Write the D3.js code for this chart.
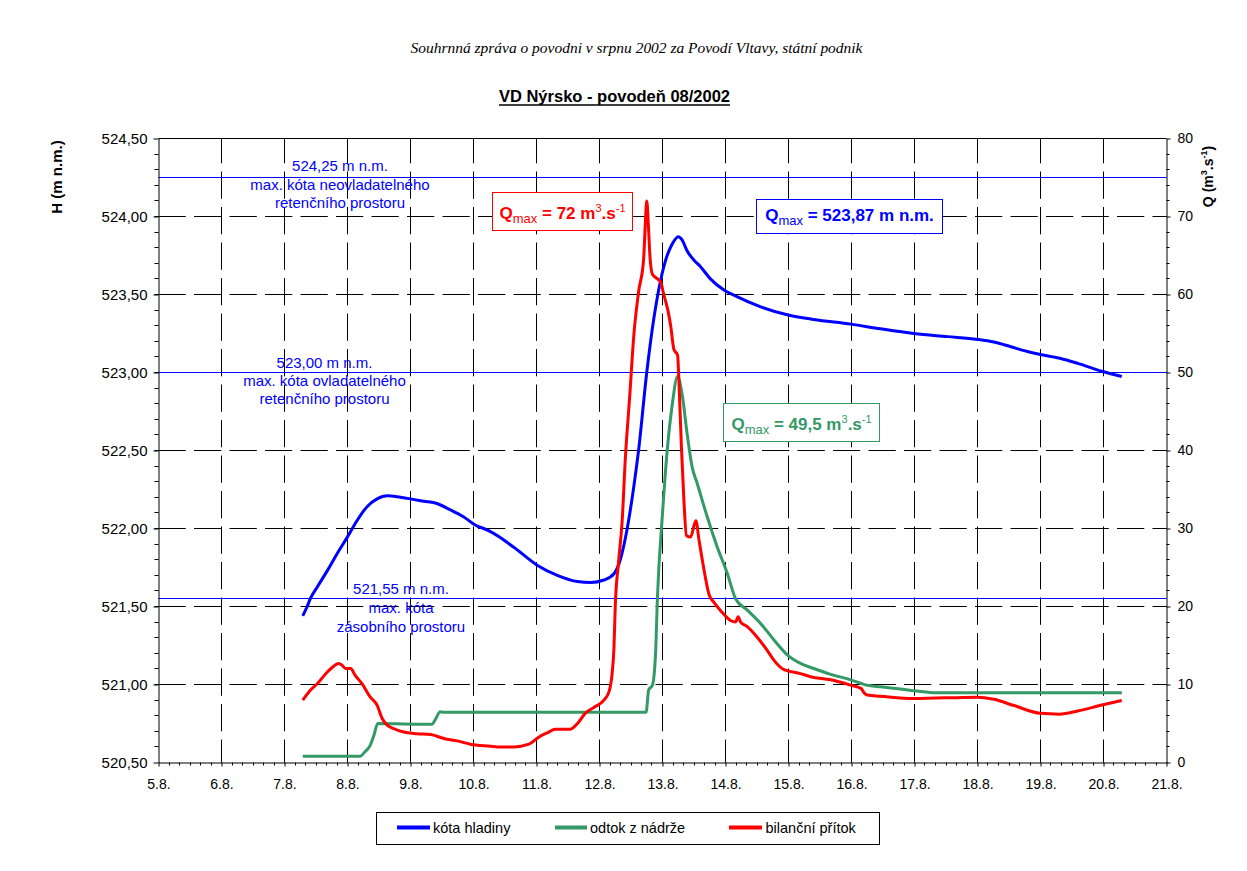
<!DOCTYPE html>
<html>
<head>
<meta charset="utf-8">
<script src="https://cdn.jsdelivr.net/npm/d3@7"></script>
<style>
  html, body { margin: 0; padding: 0; background: #fff; }
  svg { display: block; }
  text { font-family: "Liberation Sans", Arial, sans-serif; }
</style>
</head>
<body>
<script>
// ---------------- DATA ----------------
// time = day of August 2002 (decimal), 5 = 5.8. 00:00
const dayTicks = [5, 6, 7, 8, 9, 10, 11, 12, 13, 14, 15, 16, 17, 18, 19, 20, 21];
const hTicks = [520.5, 521.0, 521.5, 522.0, 522.5, 523.0, 523.5, 524.0, 524.5];
const qTicks = [0, 10, 20, 30, 40, 50, 60, 70, 80];

// kóta hladiny (m n.m.)
const hladinaT = [7.29, 7.36, 7.41, 7.52, 7.68, 7.83, 7.99, 8.15, 8.31, 8.47, 8.63, 8.84, 9.00, 9.21, 9.42, 9.63, 9.84, 10.06, 10.16, 10.27, 10.64, 11.01, 11.33, 11.65, 11.86, 12.07, 12.23, 12.33, 12.44, 12.545, 12.62, 12.75, 12.86, 12.94, 13.05, 13.15, 13.25, 13.31, 13.39, 13.50, 13.60, 13.76, 13.97, 14.19, 14.50, 14.98, 15.40, 15.99, 16.46, 16.99, 17.52, 18.00, 18.26, 18.53, 18.79, 19.00, 19.32, 19.58, 19.99, 20.29];
const hladinaH = [521.44, 521.50, 521.55, 521.625, 521.73, 521.835, 521.94, 522.05, 522.14, 522.19, 522.21, 522.20, 522.19, 522.175, 522.16, 522.12, 522.075, 522.015, 522.00, 521.98, 521.88, 521.765, 521.70, 521.66, 521.654, 521.67, 521.71, 521.80, 522.00, 522.27, 522.50, 523.00, 523.34, 523.53, 523.72, 523.82, 523.87, 523.85, 523.78, 523.72, 523.68, 523.60, 523.53, 523.485, 523.43, 523.37, 523.34, 523.31, 523.28, 523.25, 523.23, 523.212, 523.195, 523.165, 523.135, 523.115, 523.09, 523.06, 523.006, 522.974];

// odtok z nádrže (m3/s)
const odtokT = [7.29, 8.20, 8.28, 8.36, 8.42, 8.48, 9.34, 9.40, 9.47, 9.52, 12.74, 12.78, 12.84, 12.89, 12.92, 13.00, 13.08, 13.15, 13.24, 13.31, 13.39, 13.47, 13.55, 13.71, 13.87, 14.03, 14.16, 14.35, 14.56, 14.77, 14.98, 15.19, 15.40, 15.67, 15.99, 16.25, 16.46, 16.99, 17.36, 20.29];
const odtokQ = [0.8, 0.8, 1.4, 2.2, 3.5, 5.0, 4.9, 5.6, 6.5, 6.45, 6.45, 9.3, 9.9, 14.0, 21.2, 31.9, 40.5, 45.6, 49.5, 47.3, 42.2, 37.9, 35.8, 31.5, 27.6, 24.2, 21.0, 19.5, 17.8, 15.7, 13.8, 12.7, 12.05, 11.3, 10.6, 9.9, 9.7, 9.2, 8.93, 8.93];

// bilanční přítok (m3/s)
const pritokT = [7.29, 7.41, 7.52, 7.68, 7.78, 7.86, 7.91, 7.97, 8.05, 8.12, 8.23, 8.36, 8.47, 8.55, 8.63, 8.73, 8.89, 9.10, 9.32, 9.42, 9.53, 9.74, 9.95, 10.27, 10.38, 10.64, 10.88, 11.04, 11.17, 11.30, 11.54, 11.65, 11.78, 11.91, 12.07, 12.15, 12.20, 12.23, 12.25, 12.30, 12.36, 12.41, 12.48, 12.545, 12.62, 12.70, 12.73, 12.75, 12.775, 12.80, 12.84, 12.92, 12.97, 13.02, 13.085, 13.13, 13.18, 13.24, 13.26, 13.30, 13.34, 13.38, 13.445, 13.53, 13.58, 13.66, 13.74, 13.82, 13.92, 14.08, 14.16, 14.20, 14.24, 14.35, 14.50, 14.66, 14.77, 14.93, 15.19, 15.35, 15.67, 15.99, 16.15, 16.20, 16.25, 16.46, 16.99, 18.00, 18.26, 18.58, 19.00, 19.30, 19.59, 19.99, 20.29];
const pritokQ = [8.0, 9.27, 10.1, 11.6, 12.35, 12.7, 12.5, 12.05, 12.05, 11.2, 10.1, 8.4, 7.35, 5.64, 4.8, 4.36, 3.9, 3.7, 3.6, 3.37, 3.08, 2.77, 2.35, 2.09, 2.0, 2.0, 2.35, 3.28, 3.8, 4.27, 4.27, 5.0, 6.36, 7.05, 8.0, 9.05, 11.4, 14.8, 20.0, 25.5, 31.0, 39.0, 47.0, 54.8, 60.3, 64.5, 69.5, 72.0, 69.0, 65.0, 62.6, 62.0, 61.6, 60.0, 58.0, 56.0, 53.0, 52.2, 49.0, 40.5, 33.6, 29.1, 28.9, 31.0, 28.5, 24.65, 21.5, 20.5, 19.5, 18.2, 18.0, 18.7, 18.0, 17.4, 16.1, 14.4, 13.1, 11.9, 11.4, 11.0, 10.6, 9.9, 9.5, 8.93, 8.65, 8.5, 8.2, 8.38, 8.1, 7.3, 6.3, 6.2, 6.6, 7.4, 7.95];

// reference levels
const refLevels = [524.25, 523.00, 521.55];
const refLabels = [
  ["524,25 m n.m.", "max. kóta neovladatelného", "retenčního prostoru"],
  ["523,00 m n.m.", "max. kóta ovladatelného", "retenčního prostoru"],
  ["521,55 m n.m.", "max. kóta", "zásobního prostoru"]
];
const seriesNames = ["kóta hladiny", "odtok z nádrže", "bilanční přítok"];
const seriesColors = ["#0000FF", "#339966", "#FF0000"];

// ---------------- CHART ----------------
const W = 1247, H = 871;
const L = 158.5, R = 1166.5, T = 138.5, B = 762.5;
const svg = d3.select("body").append("svg").attr("width", W).attr("height", H);
svg.append("rect").attr("width", W).attr("height", H).attr("fill", "#fff");

const x = d3.scaleLinear().domain([5, 21]).range([L, R]);
const yH = d3.scaleLinear().domain([520.5, 524.5]).range([B, T]);
const yQ = d3.scaleLinear().domain([0, 80]).range([B, T]);
const px = v => Math.floor(v) + 0.5;

// titles
svg.append("text").attr("x", 636.5).attr("y", 52.5).attr("text-anchor", "middle")
  .style("font-family", "'Liberation Serif', 'Times New Roman', serif").style("font-style", "italic")
  .style("font-size", "15px").attr("fill", "#000")
  .attr("textLength", 452).attr("lengthAdjust", "spacingAndGlyphs")
  .text("Souhrnná zpráva o povodni v srpnu 2002 za Povodí Vltavy, státní podnik");
const title = svg.append("text").attr("x", 614.5).attr("y", 102).attr("text-anchor", "middle")
  .style("font-size", "16.5px").style("font-weight", "bold").attr("fill", "#000")
  .text("VD Nýrsko - povodeň 08/2002");
const tb = title.node().getBBox();
svg.append("line").attr("x1", tb.x).attr("x2", tb.x + tb.width).attr("y1", 105).attr("y2", 105)
  .attr("stroke", "#000").attr("stroke-width", 1.6);

// gridlines
const grid = svg.append("g");
hTicks.slice(1, -1).forEach(v => {
  grid.append("line").attr("x1", L).attr("x2", R).attr("y1", yH(v)).attr("y2", yH(v))
    .attr("stroke", "#000").attr("stroke-width", 1).attr("stroke-dasharray", "27.3,8.2");
});
dayTicks.slice(1, -1).forEach(d => {
  grid.append("line").attr("x1", x(d)).attr("x2", x(d)).attr("y1", T).attr("y2", B)
    .attr("stroke", "#000").attr("stroke-width", 1).attr("stroke-dasharray", "27.3,8.2")
    .attr("stroke-dashoffset", 2.5);
});
// top frame
svg.append("line").attr("x1", L).attr("x2", R).attr("y1", T).attr("y2", T).attr("stroke", "#000");

// reference lines
refLevels.forEach(v => {
  svg.append("line").attr("x1", L).attr("x2", R).attr("y1", px(yH(v))).attr("y2", px(yH(v)))
    .attr("stroke", "#0000FF").attr("stroke-width", 1);
});
const refPos = [[340, 171, 189.5, 208.3], [324.5, 367.7, 385.7, 403.5], [401, 594.3, 613, 631.7]];
refLabels.forEach((lines, i) => {
  lines.forEach((t, j) => {
    svg.append("text").attr("x", refPos[i][0]).attr("y", refPos[i][j + 1]).attr("text-anchor", "middle")
      .style("font-size", "15px").attr("fill", "#0000FF").text(t);
  });
});

// axes
const fmtH = d => d3.format(".2f")(d).replace(".", ",");
const axL = svg.append("g").attr("transform", `translate(${L},0)`)
  .call(d3.axisLeft(yH).tickValues(hTicks).tickFormat(fmtH).tickSize(5).tickSizeOuter(0).tickPadding(6));
axL.selectAll("text").style("font-size", "15px").attr("fill", "#000").style("font-family", "'Liberation Sans', Arial, sans-serif");
const axR = svg.append("g").attr("transform", `translate(${R},0)`)
  .call(d3.axisRight(yQ).tickValues(qTicks).tickSize(4).tickSizeOuter(0).tickPadding(7));
axR.selectAll("text").style("font-size", "14px").attr("fill", "#000").style("font-family", "'Liberation Sans', Arial, sans-serif");
const axB = svg.append("g").attr("transform", `translate(0,${B})`)
  .call(d3.axisBottom(x).tickValues(dayTicks).tickFormat(d => d + ".8.").tickSize(4).tickSizeOuter(0).tickPadding(13));
axB.selectAll("text").style("font-size", "14px").attr("fill", "#000").style("font-family", "'Liberation Sans', Arial, sans-serif");
[axL, axR, axB].forEach(a => { a.select(".domain").attr("stroke", "#000"); a.selectAll("line").attr("stroke", "#000"); });

// minor ticks
const minor = svg.append("g").attr("stroke", "#000").attr("stroke-width", 1);
d3.range(520.6, 524.45, 0.1).forEach(v => {
  const yy = px(yH(v));
  minor.append("line").attr("x1", L - 4).attr("x2", L).attr("y1", yy).attr("y2", yy);
});
d3.range(2, 80, 2).forEach(v => {
  if (v % 10 === 0) return;
  const yy = px(yQ(v));
  minor.append("line").attr("x1", R).attr("x2", R + 3).attr("y1", yy).attr("y2", yy);
});
d3.range(0, 16 * 6).forEach(i => {
  if (i % 6 === 0) return;
  const xx = px(x(5 + i / 6));
  minor.append("line").attr("x1", xx).attr("x2", xx).attr("y1", B).attr("y2", B + 3);
});

// axis titles
svg.append("text").attr("transform", "translate(62,177) rotate(-90)").attr("text-anchor", "middle")
  .style("font-size", "15px").style("font-weight", "bold").attr("fill", "#000").text("H (m n.m.)");
const qt = svg.append("text").attr("transform", "translate(1213,176.5) rotate(-90)").attr("text-anchor", "middle")
  .style("font-size", "14px").style("font-weight", "bold").attr("fill", "#000");
qt.append("tspan").text("Q (m");
qt.append("tspan").attr("dy", -6).style("font-size", "9px").text("3");
qt.append("tspan").attr("dy", 6).text(".s");
qt.append("tspan").attr("dy", -6).style("font-size", "9px").text("-1");
qt.append("tspan").attr("dy", 6).text(")");

// data lines
const lineH = d3.line().x((d, i) => x(hladinaT[i])).y(d => yH(d)).curve(d3.curveMonotoneX);
const lineQ = (T_) => d3.line().x((d, i) => x(T_[i])).y(d => yQ(d)).curve(d3.curveMonotoneX);
svg.append("path").datum(hladinaH).attr("d", lineH).attr("fill", "none")
  .attr("stroke", seriesColors[0]).attr("stroke-width", 3).attr("stroke-linejoin", "round");
svg.append("path").datum(odtokQ).attr("d", lineQ(odtokT)).attr("fill", "none")
  .attr("stroke", seriesColors[1]).attr("stroke-width", 3).attr("stroke-linejoin", "round");
svg.append("path").datum(pritokQ).attr("d", lineQ(pritokT)).attr("fill", "none")
  .attr("stroke", seriesColors[2]).attr("stroke-width", 3).attr("stroke-linejoin", "round");

// Qmax boxes
function qbox(bx, by, bw, bh, baseY, color, value, unitSup) {
  svg.append("rect").attr("x", bx).attr("y", by).attr("width", bw).attr("height", bh)
    .attr("fill", "#fff").attr("stroke", color).attr("stroke-width", 1);
  const t = svg.append("text").attr("x", bx + bw / 2).attr("y", baseY).attr("text-anchor", "middle")
    .attr("fill", color).style("font-weight", "bold").style("font-size", "17px");
  t.append("tspan").text("Q");
  t.append("tspan").attr("dy", 4).style("font-size", "13px").style("font-weight", "normal").text("max");
  if (unitSup) {
    t.append("tspan").attr("dy", -4).text(" = " + value + " m");
    t.append("tspan").attr("dy", -7).style("font-size", "11px").style("font-weight", "normal").text("3");
    t.append("tspan").attr("dy", 7).text(".s");
    t.append("tspan").attr("dy", -7).style("font-size", "11px").style("font-weight", "normal").text("-1");
  } else {
    t.append("tspan").attr("dy", -4).text(" = " + value);
  }
}
qbox(492.5, 192.5, 140, 38, 218.5, "#FF0000", "72", true);
qbox(756.5, 199.5, 186, 34, 221, "#0000FF", "523,87 m n.m.", false);
qbox(723.5, 403.5, 156, 38, 429.5, "#339966", "49,5", true);

// legend
const lg = svg.append("g");
lg.append("rect").attr("x", 376.5).attr("y", 812.5).attr("width", 503).attr("height", 32)
  .attr("fill", "#fff").attr("stroke", "#000").attr("stroke-width", 1);
const lgX = [[397, 430, 433], [555, 587, 590], [729, 762, 765.5]];
seriesNames.forEach((n, i) => {
  lg.append("line").attr("x1", lgX[i][0]).attr("x2", lgX[i][1]).attr("y1", 827.5).attr("y2", 827.5)
    .attr("stroke", seriesColors[i]).attr("stroke-width", 4);
  lg.append("text").attr("x", lgX[i][2]).attr("y", 832.5).style("font-size", "14.5px").attr("fill", "#000").text(n);
});
</script>
</body>
</html>
